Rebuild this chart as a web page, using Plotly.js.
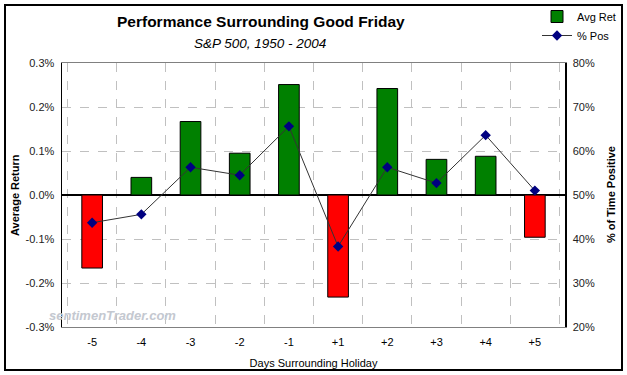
<!DOCTYPE html>
<html><head><meta charset="utf-8">
<script src="https://cdn.plot.ly/plotly-3.0.1.min.js"></script>
<style>html,body{margin:0;padding:0;background:#fff}
#wrap{position:relative;width:627px;height:375px}
#chart{width:627px;height:375px}
#frame{position:absolute;left:4px;top:4px;width:615px;height:363px;border:2px solid #000;pointer-events:none}
</style>
</head><body><div id="wrap"><div id="chart"></div><div id="frame"></div></div>
<script>
const days = ["-5","-4","-3","-2","-1","+1","+2","+3","+4","+5"];
const avgRet = [-0.166, 0.040, 0.167, 0.095, 0.251, -0.232, 0.242, 0.081, 0.088, -0.096];
const pctPos = [43.7, 45.6, 56.3, 54.5, 65.6, 38.3, 56.3, 52.7, 63.6, 51.0];
const leftTicks = [-0.3, -0.2, -0.1, 0, 0.1, 0.2, 0.3];
const rightTicks = [20, 30, 40, 50, 60, 70, 80];

const F = "Arial, 'Liberation Sans', sans-serif";
const posRet = avgRet.map(v => v >= 0 ? v : null);
const negRet = avgRet.map(v => v < 0 ? v : null);

const traces = [
  {type: "bar", name: "Avg Ret", x: days, y: posRet,
   marker: {color: "#008000", line: {color: "#000", width: 1}}},
  {type: "bar", name: "Avg Ret (neg)", x: days, y: negRet, showlegend: false,
   marker: {color: "#ff0000", line: {color: "#000", width: 1}}},
  {type: "scatter", mode: "lines+markers", name: "% Pos", x: days, y: pctPos, yaxis: "y2",
   line: {color: "#333333", width: 1},
   marker: {symbol: "diamond", size: 8, color: "#000080"}}
];

const layout = {
  width: 627, height: 375,
  margin: {l: 62, r: 62, t: 63, b: 48, autoexpand: false},
  paper_bgcolor: "#fff", plot_bgcolor: "#fff",
  font: {family: F, size: 11, color: "#222"},
  barmode: "relative",
  bargap: 0.58,
  showlegend: true,
  title: {text: "<b>Performance Surrounding Good Friday</b>", font: {family: F, size: 15.5, color: "#000"},
          x: 0.416, xanchor: "center", xref: "container", y: 0.942, yanchor: "middle", yref: "container"},
  legend: {xref: "container", yref: "container", x: 537 / 627, xanchor: "left", y: 1 - 2 / 375, yanchor: "top",
           bgcolor: "rgba(0,0,0,0)", font: {family: F, size: 11, color: "#000"}, tracegroupgap: 0},
  xaxis: {type: "category", tickson: "boundaries", showgrid: true, gridcolor: "#c0c0c0", griddash: "dash",
          showline: true, linecolor: "#808080", linewidth: 1, mirror: true,
          ticks: "", ticklabelstandoff: 5,
          tickfont: {family: F, size: 11, color: "#000"},
          title: {text: "Days Surrounding Holiday", font: {family: F, size: 11, color: "#000"}, standoff: 12}},
  yaxis: {range: [-0.3, 0.3], tickvals: leftTicks, ticktext: leftTicks.map(v => v.toFixed(1) + "%"),
          showgrid: true, gridcolor: "#c0c0c0", griddash: "dash",
          zeroline: true, zerolinecolor: "#000", zerolinewidth: 1.5,
          showline: true, linecolor: "#000", linewidth: 1.5,
          ticks: "", ticklabelstandoff: 4,
          tickfont: {family: F, size: 11, color: "#222"}},
  yaxis2: {range: [20, 80], tickvals: rightTicks, ticktext: rightTicks.map(v => v + "%"),
           overlaying: "y", side: "right", showgrid: false, zeroline: false,
           showline: true, linecolor: "#000", linewidth: 1.5,
           ticks: "", ticklabelstandoff: 4,
           tickfont: {family: F, size: 11, color: "#222"}},
  annotations: [
    {text: "<i>S&amp;P 500, 1950 - 2004</i>", xref: "paper", yref: "paper", x: (260 - 62) / 503, y: 1 + (63 - 44) / 264,
     xanchor: "center", yanchor: "middle", showarrow: false, font: {family: F, size: 13.5, color: "#000"}},
    {text: "<b>Average Return</b>", xref: "paper", yref: "paper", x: (15 - 62) / 503, y: 0.5, textangle: -90,
     xanchor: "center", yanchor: "middle", showarrow: false, font: {family: F, size: 11, color: "#000"}},
    {text: "<b>% of Time Positive</b>", xref: "paper", yref: "paper", x: (611 - 62) / 503, y: 0.5, textangle: -90,
     xanchor: "center", yanchor: "middle", showarrow: false, font: {family: F, size: 11, color: "#000"}},
    {text: "<b><i>sentimenTrader.com</i></b>", xref: "paper", yref: "paper", x: (47 - 62) / 503, y: (326.7 - 315) / 264,
     xanchor: "left", yanchor: "middle", showarrow: false, font: {family: F, size: 13, color: "#c4c8d0"}}
  ]
};

Plotly.newPlot("chart", traces, layout, {displayModeBar: false, staticPlot: true});
</script>
</body></html>
